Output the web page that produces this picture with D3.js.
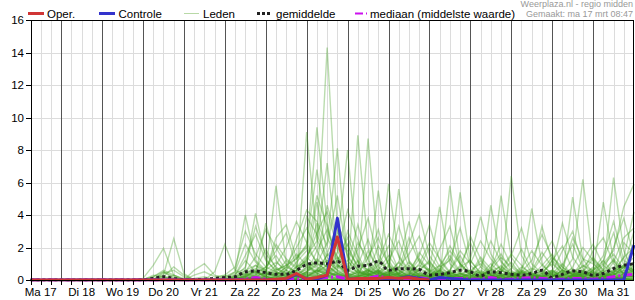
<!DOCTYPE html>
<html><head><meta charset="utf-8">
<script src="https://cdn.jsdelivr.net/npm/d3@7"></script>
<style>
html,body{margin:0;padding:0;background:#fff;}
svg{display:block;font-family:"Liberation Sans",Arial,sans-serif;}
</style></head>
<body><svg id="c" width="635" height="300"></svg>
<script>
// ---- data (6-hourly, starting Ma 17 mrt 06:00) ----
const startTime = "2025-03-17T06:00:00Z";
const stepHours = 6;
const dayLabels = ["Ma 17","Di 18","Wo 19","Do 20","Vr 21","Za 22","Zo 23","Ma 24","Di 25","Wo 26","Do 27","Vr 28","Za 29","Zo 30","Ma 31"];
const yTicks = [0,2,4,6,8,10,12,14,16];
const legendLabels = ["Oper.","Controle","Leden","gemiddelde","mediaan (middelste waarde)"];
const headerLines = ["Weerplaza.nl - regio midden","Gemaakt: ma 17 mrt 08:47"];

const oper = [0,0,0,0,0,0,0,0,0,0,0, 0,0,0,0, 0,0,0,0, 0,0,0,0, 0,0.05,0.1,0.4, 0.05,0.15,0.3,2.65, 0.05,0.1,0.1,0.1, 0.15,0.1,0.15,0.05, 0];
const controle = [0,0,0,0,0,0,0,0,0,0,0, 0,0,0,0, 0,0,0,0, 0,0,0,0, 0,0,0.05,0.35, 0.05,0.05,0.3,3.8, 0.05,0.05,0.05,0.05, 0.05,0.1,0.2,0.1, 0,0.15,0.1,0.05, 0,0,0,0, 0,0,0,0, 0,0,0,0, 0,0,0,0, 2.15];
const gemiddelde = [0,0,0,0,0,0,0,0,0,0,0, 0.02,0.1,0.2,0.1, 0.02,0.02,0.05,0.1, 0.15,0.2,0.5,0.55, 0.45,0.35,0.35,0.6, 0.95,1.05,1.0,1.15, 0.6,0.85,0.9,1.15, 0.6,0.7,0.7,0.65, 0.3,0.35,0.45,0.6, 0.5,0.25,0.5,0.45, 0.35,0.3,0.4,0.6, 0.15,0.35,0.55,0.5, 0.3,0.4,0.7,0.9, 1.0];
const mediaan = [0,0,0,0,0,0,0,0,0,0,0, 0,0,0,0, 0,0,0,0, 0,0,0.05,0.15, 0.05,0,0,0.05, 0.05,0.1,0.15,0.2, 0.05,0.05,0.1,0.25, 0.1,0.1,0.1,0.15, 0.05,0.05,0.1,0.1, 0.05,0.05,0.15,0.05, 0.05,0.1,0.15,0.1, 0.05,0.05,0.1,0.1, 0.05,0.1,0.2,0.3, 0.35];

const z = [0,0,0,0,0,0,0,0,0,0,0]; // Ma 17 06:00 .. Wo 19 18:00: all members dry
const leden = [
[...z,0,0.2,0.5,0.1, 0,0,0,0, 0,0.1,0.6,0.9, 0.4,0.2,0.1,0.8, 1.5,2.4,14.3,3.2, 0.5,1.2,0.6,0.3, 0.1,0.4,1.1,0.5, 0.2,0,0.3,0.8, 1.2,0.4,0.1,0, 0,0.2,0.5,0.1, 0,0,0.3,0.9, 0.6,0.2,0.1,0.4, 1.1],
[...z,0,0,0.3,2.55, 0.4,0,0,0, 0,0.3,1.2,0.5, 0.2,0.1,0.6,1.4, 2.1,9.4,3.5,1.0, 0.3,0.2,1.8,0.6, 0,0.1,0.3,1.7, 0.9,0.2,0,0, 0.4,1.2,0.3,0.1, 0,0,0,0.2, 0.6,0.1,0,0.3, 0.8,0.4,0.2,0, 0.1],
[...z,0.1,0.9,1.95,0.3, 0,0,0,0, 0,0,0.2,0.6, 0.1,0,0.4,0.2, 0.5,1.0,2.3,8.1, 1.2,0.4,0.3,0.9, 2.1,0.6,0.2,0.1, 0,0.5,1.3,0.4, 0.1,0,0.2,0.7, 0.3,0,0,0.1, 0.4,1.0,0.3,0.1, 0,0.2,0.5,1.4, 2.0],
[...z,0,0,0.4,0.6, 0.2,0,0.1,0, 0.2,0.5,4.0,1.2, 0.6,0.3,0.1,0.2, 0.8,0.6,1.5,2.2, 8.0,1.1,0.4,0.1, 0,0.3,0.9,0.2, 0.1,0.4,0.2,0, 0,0.1,0.6,0.3, 0,0,0.2,0.9, 1.6,0.5,0.1,0, 0,0.3,0.1,0.2, 0.6],
[...z,0,0,0,0, 0,0.6,1.0,0.3, 0.1,0.4,0.7,4.1, 1.3,0.5,0.2,0.1, 0.4,1.8,3.1,1.4, 0.2,8.9,2.0,0.5, 0.3,0.1,0.4,0.2, 0,0,0.6,1.5, 0.4,0.2,0.1,0, 0,0.5,0.3,0.1, 0,0,0.1,0.4, 0.2,0.6,1.2,0.3, 0.2],
[...z,0,0,0,0, 0,0,0,0.5, 2.2,0.6,0.3,0.2, 0.5,5.8,1.0,0.4, 0.2,0.6,1.2,0.8, 0.3,0.4,8.7,1.6, 0.5,0.2,0.1,0.6, 1.2,0.3,0,0.1, 0.5,0.2,0,0, 0.3,0.8,0.4,0.1, 0,0,0.3,0.6, 0.2,0.1,0.5,0.9, 0.4],
[...z,0,0,0,0, 0,0,0,0, 0,0,0.1,0.3, 3.5,1.2,0.4,0.2, 9.1,2.5,1.1,0.6, 0.2,0.1,0.5,1.2, 0.6,0.3,0.1,0, 0.2,0.6,0.3,0.1, 0,0.3,1.0,0.4, 0.2,0.1,0,0, 0,0.4,0.7,0.2, 0.1,0,0.3,0.6, 0.2],
[...z,0,0,0,0, 0,0,0,0, 0,0.2,0.4,0.3, 0.6,1.1,0.6,0.2, 0.5,1.2,0.8,3.0, 1.5,0.6,0.4,5.5, 1.2,0.3,0.2,0.1, 0,0.3,0.5,0.2, 0.1,0,0,0.4, 0.2,0.1,0,0.2, 0.5,0.3,0.1,0, 0,0.2,0.6,0.3, 0.1],
[...z,0,0,0,0, 0,0,0,0, 0,0,0,0.2, 0.4,0.3,0.8,0.5, 1.2,3.5,0.9,0.4, 0.2,0.5,0.3,0.2, 5.9,1.4,0.5,0.2, 0.1,0.6,0.3,0.2, 0,0,0.2,0.5, 1.1,0.3,0.1,0, 0,0.1,0.3,0.2, 0.6,1.2,0.4,0.1, 0.3],
[...z,0,0,0,0, 0,0,0,0, 0,0,0,0, 0,0.2,0.3,0.6, 1.4,0.8,0.5,0.2, 0.1,0.3,0.6,0.4, 0.3,5.6,1.1,0.3, 0.2,0.1,5.8,1.0, 0.3,0,0.1,0.3, 0.4,0.2,0,0, 0,0.1,0.6,0.4, 0.2,0,0.3,0.8, 0.5],
[...z,0,0,0,0, 0,0,0,0, 0,0,0.3,0.5, 0.2,0,0,0.1, 0.5,0.3,1.6,0.9, 0.4,0.2,0.1,0.3, 0.9,0.4,0.2,0.6, 1.1,0.5,0.2,5.4, 1.2,0.4,0.1,0, 0.2,0.5,0.3,0.1, 0,0,0.2,0.4, 0.3,0.1,0,0.2, 0.4],
[...z,0,0,0,0, 0,0,0,0, 0,0,0,0.1, 0.3,0.5,0.2,0.6, 1.0,0.4,0.2,0.1, 0,0.2,0.6,0.3, 0.1,0,0.4,1.3, 0.6,4.5,1.0,0.4, 0.2,0.1,4.6,1.2, 0.3,0.1,0,0, 0.2,0.6,0.3,0.1, 0,0.2,0.4,0.9, 0.6],
[...z,0,0,0,0, 0,0,0,0, 0,0,0,0, 0,0.1,0.2,0.4, 0.8,1.1,0.5,0.3, 0.2,0.1,0,0.2, 0.6,0.3,0.1,0.2, 0.4,0.2,0.1,0.3, 0.6,1.0,0.3,5.2, 1.4,0.5,0.2,0.1, 0,0.3,0.5,0.2, 0.1,0,0.2,0.5, 0.3],
[...z,0,0,0,0, 0,0,0,0, 0,0,0,0, 0,0,0.2,0.1, 0.3,0.6,0.4,0.2, 0.1,0,0.3,0.5, 0.2,0.1,0,0.1, 0.3,0.6,0.2,0.1, 0,0.4,0.2,0.3, 6.4,1.5,0.4,0.2, 0.1,0,0.3,0.6, 0.2,0.1,0,0.4, 0.8],
[...z,0,0,0,0, 0,0,0,0, 0,0,0,0, 0.2,0.4,0.1,0, 0.2,0.5,0.9,0.4, 0.2,0.1,0.3,0.6, 0.3,0.1,0,0, 0.2,0.4,0.3,0.1, 0,0.2,0.1,0, 0.3,0.4,4.4,1.0, 0.3,0.1,0,0.2, 0.5,0.3,0.1,0.2, 0.3],
[...z,0,0,0,0, 0,0,0,0, 0,0,0,0, 0,0,0,0.1, 0.4,0.2,0.5,0.3, 0.1,0.2,0.4,0.2, 0.5,0.3,0.1,0.2, 0.6,0.2,0.1,0, 0.1,0.3,0.5,0.2, 0.1,0.6,0.3,0.2, 0.4,0.2,5.1,1.3, 1.0,0.4,0.2,0.1, 0.2],
[...z,0,0,0,0, 0,0,0,0, 0,0,0,0, 0,0,0.1,0.3, 0.2,0.6,0.3,0.1, 0,0.2,0.5,0.3, 0.1,0,0.2,0.4, 0.3,0.1,0,0, 0.2,0.5,0.3,0.1, 0,0,0.3,0.5, 1.0,0.4,1.3,6.2, 1.1,0.3,0.2,0.1, 0.1],
[...z,0,0,0,0, 0,0,0,0, 0,0,0,0, 0,0,0,0, 0.1,0.3,0.2,0.4, 0.2,0.1,0.3,0.6, 0.4,0.2,0.1,0.3, 0.2,0,0.1,0.2, 0.3,0.1,0,0.2, 0.4,0.2,0.1,0.3, 0.6,0.2,0.4,0.3, 0.5,4.8,1.2,0.4, 0.2],
[...z,0,0,0,0, 0,0,0,0, 0,0,0,0, 0,0,0,0, 0,0.1,0.4,0.3, 0.2,0.1,0.2,0.1, 0.3,0.4,0.2,0.1, 0,0.2,0.4,0.3, 0.1,0,0.1,0.3, 0.2,0.4,0.2,0.1, 0,0.3,0.5,0.8, 1.4,0.6,6.3,1.8, 0.4],
[...z,0,0,0,0, 0,0,0,0, 0,0,0,0, 0,0,0,0, 0,0,0.2,0.5, 0.3,0.1,0,0.2, 0.4,0.2,0.3,0.1, 0,0.1,0.2,0.4, 0.2,0.1,0.3,0.2, 0.1,0,0.2,0.3, 0.2,0.5,0.4,0.3, 0.6,1.0,1.8,4.5, 5.9],
[...z,0,0,0.5,0.2, 0,0,0,0, 0,0.3,1.5,2.8, 1.2,0.6,0.9,2.0, 3.2,1.8,0.7,1.2, 2.6,1.1,0.6,0.4, 1.2,2.4,0.8,0.3, 0.2,0.9,1.8,1.0, 0.4,0.2,0.6,1.4, 0.8,0.3,0.1,0.4, 1.2,2.1,0.6,0.2, 0.3,0.9,1.6,0.7, 1.1],
[...z,0,0.3,0.2,0, 0,0,0,0, 0,0.2,0.8,3.3, 1.6,0.8,0.4,0.6, 1.3,2.9,4.2,2.0, 0.9,3.4,1.2,0.5, 0.3,0.8,1.6,2.7, 1.0,0.4,0.2,0.9, 2.3,0.8,0.3,0.1, 0.2,0.7,1.8,0.9, 0.4,0.2,0.8,2.0, 1.2,0.5,0.3,0.8, 1.4],
[...z,0,0,0.2,0.8, 0.3,0,0,0, 0.1,0.5,2.2,1.1, 0.5,2.6,3.4,1.3, 2.2,6.8,2.6,1.4, 0.6,1.9,3.8,1.3, 0.5,0.2,0.6,1.5, 3.4,1.2,0.4,0.2, 0.1,0.8,2.4,1.1, 0.5,0.2,0.1,0.6, 1.4,0.8,0.3,0.5, 1.8,2.6,1.0,0.4, 0.6],
[...z,0,0,0,0, 0,0.3,0.5,0.2, 0.3,0.8,3.0,1.6, 0.8,1.5,0.6,2.5, 4.3,3.6,2.1,5.2, 1.4,0.6,0.3,1.1, 2.8,1.5,0.6,0.2, 0.4,1.9,3.3,0.9, 0.3,0.1,0.2,0.7, 1.6,0.9,0.3,0.1, 0.5,1.8,3.0,0.9, 0.4,0.2,1.1,2.6, 3.2],
[...z,0,0,0,0, 0,0,0,0, 0,0.1,0.5,1.4, 3.1,2.0,0.9,1.3, 2.0,1.1,4.6,2.4, 1.8,0.9,2.5,0.8, 0.4,1.1,3.6,1.2, 0.5,0.2,0.1,0.4, 1.3,3.9,1.6,0.6, 0.2,0.5,1.2,2.8, 1.4,0.6,0.2,0.1, 0.6,1.5,3.6,1.2, 0.8],
[...z,0,0,0,0, 0,0,0,0, 0,0,0.3,0.9, 0.6,2.2,1.3,0.8, 3.9,2.8,1.4,0.6, 3.0,1.5,0.4,2.1, 1.0,0.4,2.2,4.0, 1.5,0.6,2.1,1.0, 0.4,0.2,0.8,1.6, 0.6,0.2,0.5,1.4, 2.4,0.8,0.3,1.2, 2.2,0.9,0.4,2.3, 1.6],
[...z,0,0,0,0, 0,0,0,0, 0,0,0.2,0.6, 1.9,0.7,0.3,1.1, 1.8,5.2,3.3,0.9, 0.4,2.3,1.3,3.1, 0.9,0.3,0.1,0.7, 2.0,0.8,1.2,3.2, 0.9,0.3,0.1,0.5, 1.5,3.2,1.0,0.4, 0.2,0.9,2.2,0.7, 0.3,1.2,2.9,0.9, 3.0],
[...z,0,0,0,0, 0,0,0,0, 0,0,0,0.3, 0.8,1.8,2.9,0.8, 1.2,2.1,7.2,1.8, 0.7,0.3,1.4,2.6, 0.9,3.3,1.2,0.4, 0.2,0.6,1.5,0.5, 2.7,1.3,0.4,0.2, 0.7,1.9,0.6,3.3, 1.1,0.4,0.2,0.5, 1.3,0.6,2.0,3.8, 1.5],
[...z,0,0,0,0, 0,0,0,0, 0,0,0.1,0.4, 0.3,0.9,2.0,3.6, 2.3,1.0,0.6,1.7, 4.3,2.5,0.9,0.4, 0.2,0.7,2.6,1.1, 0.5,0.2,0.6,1.8, 1.0,2.4,1.3,0.6, 0.3,0.1,0.6,1.7, 0.8,3.5,1.4,0.5, 0.2,0.4,1.3,0.6, 2.3],
[...z,0,0,0,0, 0,0,0,0, 0,0,0,0.2, 0.5,0.4,1.2,0.7, 0.9,4.8,1.6,3.4, 2.1,0.8,0.3,0.6, 1.5,0.6,0.3,1.0, 2.3,1.3,0.5,0.2, 0.4,1.4,0.7,2.2, 0.9,0.4,0.1,0.3, 1.2,0.6,2.6,1.3, 0.4,0.1,0.4,1.4, 4.2],
[...z,0,0,0,0, 0,0,0,0, 0,0,0.2,0.5, 0.3,0.6,0.9,0.4, 0.6,1.3,0.8,0.5, 0.3,0.6,1.0,0.4, 0.2,0.5,0.3,0.7, 0.4,0.2,0.5,0.3, 0.6,0.4,0.2,0.1, 0.3,0.6,0.4,0.2, 0.5,0.3,0.1,0.4, 0.7,0.3,0.5,0.9, 0.6],
[...z,0,0.1,0.2,0.1, 0,0,0,0, 0,0.1,0.3,0.7, 0.5,0.2,0.4,0.8, 1.1,0.7,0.4,0.9, 0.6,0.3,0.2,0.5, 0.8,0.4,0.2,0.1, 0.3,0.7,0.4,0.2, 0.1,0.3,0.6,0.8, 0.4,0.2,0.1,0.3, 0.2,0.6,0.4,0.2, 0.1,0.3,0.6,0.4, 0.5],
[...z,0,0,0.1,0.3, 0.1,0,0,0, 0,0,0.4,0.2, 0.1,0.3,0.6,0.3, 0.5,0.9,1.2,0.6, 0.4,0.2,0.7,0.5, 0.3,0.1,0.5,0.9, 0.6,0.3,0.1,0.2, 0.4,0.6,0.3,0.1, 0.2,0.4,0.7,0.5, 0.3,0.1,0.2,0.5, 0.3,0.6,0.2,0.3, 0.7],
[...z,0,0,0,0, 0,0.1,0.2,0, 0,0.2,0.6,0.4, 0.8,0.5,0.2,0.3, 0.7,0.5,0.9,1.4, 0.8,0.5,0.3,0.2, 0.5,0.8,0.4,0.2, 0.1,0.2,0.6,0.4, 0.2,0.5,0.3,0.6, 0.3,0.1,0.2,0.4, 0.6,0.4,0.2,0.1, 0.2,0.5,0.8,0.4, 0.9],
[...z,0,0,0,0, 0,0,0,0.1, 0.3,0.1,0.2,0.5, 0.3,0.7,0.4,0.2, 0.4,0.6,0.3,0.8, 1.2,0.4,0.6,0.3, 0.2,0.4,0.7,0.3, 0.5,0.9,0.3,0.1, 0,0.2,0.4,0.3, 0.5,0.3,0.2,0.1, 0.4,0.2,0.6,0.3, 0.2,0.4,0.3,0.6, 0.4],
[...z,0,0,0,0, 0,0,0,0, 0,0,0.1,0.2, 0.2,0.4,0.3,0.6, 0.3,0.5,0.7,0.4, 0.2,0.5,0.3,0.1, 0.4,0.6,0.2,0.4, 0.7,0.3,0.2,0.4, 0.6,0.2,0.1,0.3, 0.2,0.5,0.3,0.6, 0.3,0.1,0.2,0.4, 0.5,0.2,0.4,0.3, 0.2],
[...z,0,0,0,0, 0,0,0,0, 0,0,0.2,0.1, 0,0.2,0.1,0.3, 0.2,0.4,0.6,0.3, 0.1,0.3,0.2,0.4, 0.2,0.1,0.3,0.2, 0.1,0.4,0.2,0.1, 0.3,0.2,0.1,0.2, 0.4,0.2,0.1,0.2, 0.3,0.2,0.1,0.3, 0.2,0.1,0.3,0.2, 0.4],
[...z,0,0,0,0, 0,0,0,0, 0,0,0,0.1, 0.2,0.1,0,0.2, 0.3,0.2,0.5,0.2, 0.1,0.2,0.4,0.2, 0.1,0.2,0.1,0.3, 0.2,0.1,0.2,0.1, 0.1,0.3,0.2,0.1, 0.1,0.2,0.3,0.1, 0.2,0.1,0.3,0.2, 0.1,0.2,0.1,0.3, 0.2],
[...z,0,0,0,0, 0,0,0,0, 0,0,0,0, 0.1,0,0.1,0.1, 0.2,0.1,0.3,0.1, 0,0.1,0.2,0.1, 0.1,0.1,0,0.2, 0.1,0,0.1,0.1, 0,0.1,0.2,0.1, 0,0.1,0.1,0.2, 0.1,0,0.1,0.1, 0.2,0.1,0,0.1, 0.1],
[...z,0,0,0,0, 0,0,0,0, 0,0,0,0, 0,0,0.1,0, 0.1,0.2,0.1,0, 0.1,0,0.1,0.1, 0,0.1,0.1,0, 0.1,0.1,0,0, 0.1,0,0.1,0.1, 0,0,0.1,0, 0.1,0.1,0,0, 0.1,0,0.1,0.1, 0],
[...z,0,0,0,0, 0,0,0,0, 0,0,0,0, 0,0,0,0, 0,0.1,0,0.1, 0,0,0.1,0, 0,0,0.1,0, 0,0.1,0,0, 0,0,0.1,0, 0,0.1,0,0, 0,0,0.1,0, 0,0,0,0.1, 0],
[...z,0,0.2,0.6,0.3, 0,0,0,0, 0,0,0,0, 0,0.3,0.8,1.6, 0.9,0.4,0.2,0, 0,0,0.1,0, 0,0,0,0, 0.2,0.5,0.2,0, 0,0,0,0, 0,0,0.2,0.4, 0.1,0,0,0, 0,0,0,0.1, 0],
[...z,0,0,0,0, 0,0,0,0, 0,0,0,0, 0.2,0.1,0,0, 0,0,0.3,1.2, 2.2,0.6,0.1,0, 0,0,0,0, 0,0,0,0, 0,0.2,0.7,0.3, 0,0,0,0, 0,0,0,0, 0,0.2,0.1,0, 0],
[...z,0,0,0,0, 0,0,0,0, 0,0,0,0, 0,0,0,0, 0,0,0,0, 0,0,0,0, 0.3,1.1,0.5,0.1, 0,0,0,0, 0,0,0,0, 0,0,0,0, 0,0,0,0, 0,0,0,0, 0],
[...z,0,0,0,0, 0,0,0,0, 0,0,0,0, 0,0,0,0, 0,0,0,0, 0,0,0,0, 0,0,0,0, 0,0,0,0, 0,0,0.4,0.9, 0.3,0,0,0, 0,0,0,0, 0,0,0,0, 0],
[...z,0,0,0,0, 0,0,0,0, 0,0,0,0, 0,0,0,0, 0.1,0.3,0.2,0, 0,0,0,0, 0,0,0,0, 0,0,0,0, 0,0,0,0, 0,0,0,0, 0,0,0,0, 0,0,0.3,0.8, 0.5],
[...z,0,0,0,0, 0,0,0,0, 0,0.1,0.2,0.1, 0,0,0,0, 0,0,0,0, 0,0,0,0, 0,0,0,0, 0,0,0,0, 0,0,0,0, 0,0,0,0, 0,0,0,0, 0,0,0,0, 0],
[...z,0,0,0,0, 0,0,0,0, 0,0,0,0, 0,0,0,0, 0,0,0,0, 0,0,0,0, 0,0,0,0, 0,0,0,0, 0,0,0,0, 0,0,0,0, 0.2,0.6,0.4,0.1, 0,0,0,0, 0],
[...z,0,0,0,0, 0,0,0,0, 0,0,0,0, 0,0,0,0, 0,0,0,0, 0,0,0,0, 0,0,0,0, 0.1,0.2,0,0, 0,0,0,0, 0,0,0,0, 0,0,0,0, 0,0,0,0, 0],
[...z,0,0,0,0, 0,0,0,0, 0,0,0,0, 0,0,0,0, 0,0,0,0, 0,0,0,0, 0,0,0,0, 0,0,0,0, 0,0,0,0, 0,0,0,0, 0,0,0,0, 0,0,0,0, 0]
];

// ---- chart ----
const t0 = new Date(startTime);
const tAt = i => new Date(t0.getTime() + i * stepHours * 3600e3);
const tEnd = new Date(Date.UTC(2025, 3, 1, 0));
const x = d3.scaleUtc().domain([t0, tEnd]).range([30.5, 634]);
const y = d3.scaleLinear().domain([0, 16]).range([280, 20]);
const X0 = x.range()[0], X1 = x.range()[1];

const svg = d3.select("#c");
const font = '"Liberation Sans", Arial, sans-serif';

// grid
const g = svg.append("g");
g.selectAll(".hg").data(yTicks.filter(v => v > 0 && v < 16)).join("line")
  .attr("x1", X0).attr("x2", X1).attr("y1", d => Math.round(y(d)) + 0.5).attr("y2", d => Math.round(y(d)) + 0.5)
  .attr("stroke", "#dcdcdc").attr("stroke-width", 1);
const sixH = d3.utcHour.every(6).range(t0, tEnd);
g.selectAll(".vg").data(sixH.filter(d => d.getUTCHours() !== 0 && +d > +t0)).join("line")
  .attr("x1", d => Math.round(x(d)) + 0.5).attr("x2", d => Math.round(x(d)) + 0.5).attr("y1", 20).attr("y2", 280)
  .attr("stroke", "#dcdcdc").attr("stroke-width", 1);
g.selectAll(".vd").data(d3.utcDay.range(t0, tEnd)).join("line")
  .attr("x1", d => Math.round(x(d)) + 0.5).attr("x2", d => Math.round(x(d)) + 0.5).attr("y1", 20).attr("y2", 280)
  .attr("stroke", "#555").attr("stroke-width", 1);

// clip
svg.append("clipPath").attr("id", "clip").append("rect").attr("x", X0).attr("y", 0).attr("width", X1 - X0 + 1).attr("height", 281.5);
const plot = svg.append("g").attr("clip-path", "url(#clip)");

const lineOf = (curve) => d3.line().x((d, i) => x(tAt(i))).y(d => y(d)).curve(curve || d3.curveLinear);

plot.selectAll(".lid").data(leden).join("path")
  .attr("d", d => lineOf()(d)).attr("fill", "none")
  .attr("stroke", "rgb(65,158,30)").attr("stroke-opacity", 0.36).attr("stroke-width", 1.4);

plot.append("path").attr("d", lineOf(d3.curveMonotoneX)(gemiddelde)).attr("fill", "none")
  .attr("stroke", "#222").attr("stroke-width", 3).attr("stroke-dasharray", "3,3");
plot.append("path").attr("d", lineOf()(mediaan)).attr("fill", "none")
  .attr("stroke", "#cc11ee").attr("stroke-width", 3).attr("stroke-dasharray", "9,3,2,3");
plot.append("path").attr("d", lineOf()(controle)).attr("fill", "none")
  .attr("stroke", "#3333cc").attr("stroke-width", 3).attr("stroke-linejoin", "round");
plot.append("path").attr("d", lineOf()(oper)).attr("fill", "none")
  .attr("stroke", "#d03535").attr("stroke-width", 3).attr("stroke-linejoin", "round");

// frame
svg.append("line").attr("x1", X0).attr("x2", X1).attr("y1", 20.5).attr("y2", 20.5).attr("stroke", "#000");
svg.append("line").attr("x1", X0).attr("x2", X1).attr("y1", 280.5).attr("y2", 280.5).attr("stroke", "#000");
svg.append("line").attr("x1", Math.round(X0) + 0.5).attr("x2", Math.round(X0) + 0.5).attr("y1", 20).attr("y2", 281).attr("stroke", "#000");
svg.append("line").attr("x1", Math.round(X1) - 0.5).attr("x2", Math.round(X1) - 0.5).attr("y1", 20).attr("y2", 281).attr("stroke", "#000");

// y axis ticks and labels
svg.selectAll(".yt").data(yTicks).join("line")
  .attr("x1", 26).attr("x2", 31).attr("y1", d => Math.round(y(d)) + 0.5).attr("y2", d => Math.round(y(d)) + 0.5).attr("stroke", "#000");
svg.selectAll(".yl").data(yTicks).join("text")
  .attr("x", 24).attr("y", d => y(d) + 4).attr("text-anchor", "end")
  .attr("font-size", 11.5).attr("font-family", font).attr("fill", "#000").text(d => d);

// x ticks and labels
svg.selectAll(".xt").data(sixH).join("line")
  .attr("x1", d => Math.round(x(d)) + 0.5).attr("x2", d => Math.round(x(d)) + 0.5).attr("y1", 280).attr("y2", 285).attr("stroke", "#000");
svg.selectAll(".xl").data(dayLabels).join("text")
  .attr("x", (d, i) => x(new Date(Date.UTC(2025, 2, 17 + i, 12))))
  .attr("y", 296).attr("text-anchor", "middle")
  .attr("font-size", 11.5).attr("font-family", font).attr("fill", "#000").text(d => d);

// legend
const lg = svg.append("g").attr("font-family", font).attr("font-size", 11.5);
const lgX = [28, 99, 184, 257, 355];
const lgT = [47, 118.5, 203, 276, 370];
lg.append("line").attr("x1", lgX[0]).attr("x2", lgX[0] + 16).attr("y1", 13.5).attr("y2", 13.5).attr("stroke", "#d03535").attr("stroke-width", 3);
lg.append("line").attr("x1", lgX[1]).attr("x2", lgX[1] + 16).attr("y1", 13.5).attr("y2", 13.5).attr("stroke", "#3333cc").attr("stroke-width", 3);
lg.append("line").attr("x1", lgX[2]).attr("x2", lgX[2] + 15).attr("y1", 13.5).attr("y2", 13.5).attr("stroke", "#b8d9a6").attr("stroke-width", 1);
lg.append("line").attr("x1", lgX[3]).attr("x2", lgX[3] + 15).attr("y1", 13.5).attr("y2", 13.5).attr("stroke", "#222").attr("stroke-width", 3).attr("stroke-dasharray", "3,2");
lg.append("line").attr("x1", lgX[4]).attr("x2", lgX[4] + 12).attr("y1", 13.5).attr("y2", 13.5).attr("stroke", "#cc11ee").attr("stroke-width", 2).attr("stroke-dasharray", "8,3,1,3");
lg.selectAll(".lt").data(legendLabels).join("text")
  .attr("x", (d, i) => lgT[i]).attr("y", 17.5).attr("fill", "#000").text(d => d);

// header
svg.selectAll(".hd").data(headerLines).join("text")
  .attr("x", 633).attr("y", (d, i) => 7 + i * 10).attr("text-anchor", "end")
  .attr("font-family", font).attr("font-size", 9).attr("fill", "#999").text(d => d);
</script></body></html>
